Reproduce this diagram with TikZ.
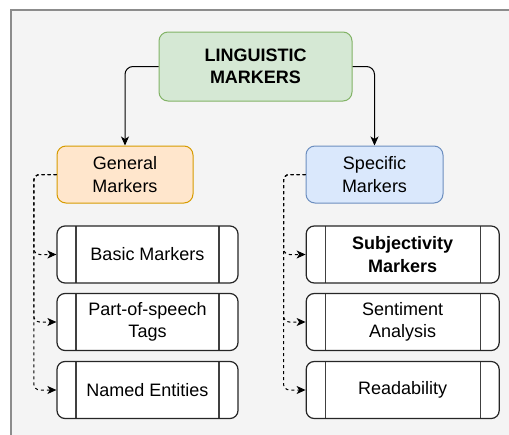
\documentclass[tikz,border=0pt]{standalone}
\usepackage{fontspec}
\setmainfont{Liberation Sans}
\usetikzlibrary{arrows.meta,calc}
\definecolor{bgc}{HTML}{F4F4F4}
\definecolor{bgline}{HTML}{8C8C8C}
\definecolor{gfill}{HTML}{D5E8D4}
\definecolor{gline}{HTML}{82B366}
\definecolor{ofill}{HTML}{FFE6CC}
\definecolor{oline}{HTML}{D79B00}
\definecolor{bfill}{HTML}{DAE8FC}
\definecolor{bline}{HTML}{6C8EBF}
\begin{document}
\begin{tikzpicture}[x=1pt,y=-1pt,
  font=\fontsize{18}{22.5}\selectfont,
  base/.style={draw, rounded corners=9pt, align=center, inner sep=0pt, line width=1pt},
  rootbox/.style={base, fill=gfill, draw=gline, minimum width=193pt, minimum height=69pt, font=\fontsize{18}{22.5}\selectfont\bfseries},
  genbox/.style={base, fill=ofill, draw=oline, minimum width=136pt, minimum height=57pt},
  specbox/.style={base, fill=bfill, draw=bline, minimum width=137pt, minimum height=57pt},
  procbox/.style={base, fill=white, draw=black!85, line width=1.2pt, rounded corners=8pt, minimum height=57pt,
    path picture={
      \draw[black!75, line width=1.2pt] ([xshift=19pt]path picture bounding box.north west) -- ([xshift=19pt]path picture bounding box.south west);
      \draw[black!75, line width=1.2pt] ([xshift=-19pt]path picture bounding box.north east) -- ([xshift=-19pt]path picture bounding box.south east);
    }},
  lbox/.style={procbox, minimum width=181pt},
  rbox/.style={procbox, minimum width=193pt},
  solidarrow/.style={draw=black, line width=1pt, rounded corners=8pt, -{Stealth[length=9pt,width=8pt,inset=2.5pt]}},
  dasharrow/.style={draw=black, line width=1pt, dash pattern=on 3pt off 3pt, rounded corners=6pt, -{Stealth[length=9pt,width=8pt,inset=2.5pt]}}
]
\useasboundingbox (0,0) rectangle (509,434);
\fill[bgc] (11,10) rectangle (515,440);
\draw[bgline, line width=1.5pt] (11,440) -- (11,10) -- (515,10);

\node[rootbox] (root) at (255.5,66.5) {LINGUISTIC\\MARKERS};
\node[genbox] (gen) at (125,174.5) {General\\Markers};
\node[specbox] (spec) at (374.5,174.5) {Specific\\Markers};

\node[lbox] (l1) at (147.5,254.5) {Basic Markers};
\node[lbox] (l2) at (147.5,322) {Part-of-speech\\Tags};
\node[lbox] (l3) at (147.5,390) {Named Entities};

\node[rbox] (r1) at (402.7,254.5) {\bfseries Subjectivity\\\bfseries Markers};
\node[rbox] (r2) at (402.7,322) {Sentiment\\Analysis};
\node[rbox] (r3) at (402.7,390) {Readability};

\draw[solidarrow] (root.west) -| (gen.north);
\draw[solidarrow] (root.east) -| (spec.north);

\coordinate (gl) at ($(gen.west)+(-22.7,0)$);
\coordinate (sl) at ($(spec.west)+(-22,0)$);
\foreach \c in {l1,l2,l3}{
  \draw[dasharrow] (gen.west) -- (gl) |- (\c.west);
}
\foreach \c in {r1,r2,r3}{
  \draw[dasharrow] (spec.west) -- (sl) |- (\c.west);
}
\end{tikzpicture}
\end{document}
